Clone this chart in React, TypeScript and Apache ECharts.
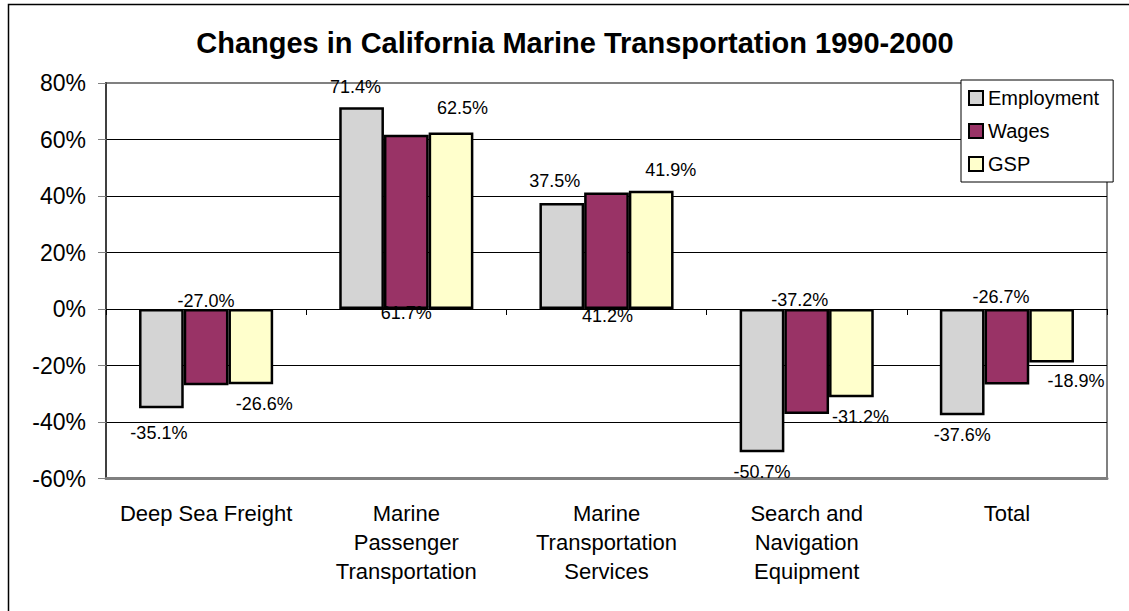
import React, { useEffect, useRef } from "react";
import * as echarts from "echarts";

const categories = [
  "Deep Sea Freight",
  "Marine\nPassenger\nTransportation",
  "Marine\nTransportation\nServices",
  "Search and\nNavigation\nEquipment",
  "Total",
];
const employment = [-35.1, 71.4, 37.5, -50.7, -37.6];
const wages = [-27.0, 61.7, 41.2, -37.2, -26.7];
const gsp = [-26.6, 62.5, 41.9, -31.2, -18.9];
const yTicks = { min: -60, max: 80, interval: 20 };

// label placement nudges (style only)
const empDist = [16, 11, 13, 11, 11];
const empDx = [-2.5, -6, -7, 0, 0];
const wagDist = [-0.5, -5, -2, 0, 3];
const wagDx = [0, 0, 1, -7, -6];
const gspDist = [11, 15, 11.5, 11, 10];
const gspDx = [13.5, 11.5, 19.5, 9, 24.5];

const FONT = 'Arial, "Liberation Sans", sans-serif';

function buildData(vals: number[], dist: number[], dx: number[], atBase: boolean) {
  return vals.map((v, i) => {
    const pos = atBase ? (v >= 0 ? "bottom" : "top") : v >= 0 ? "top" : "bottom";
    return {
      value: v,
      label: { position: pos, distance: dist[i], offset: [dx[i], 0] },
    };
  });
}

export default function App() {
  const ref = useRef<HTMLDivElement>(null);
  useEffect(() => {
    if (!ref.current) return;
    const chart = echarts.init(ref.current, undefined, { renderer: "svg" });
    const labelBase = {
      show: true,
      color: "#000",
      fontSize: 18,
      fontFamily: FONT,
      formatter: (p: any) => p.value.toFixed(1) + "%",
    };
    const barBorder = { borderColor: "#000", borderWidth: 2.5 };
    chart.setOption({
      animation: false,
      backgroundColor: "#fff",
      graphic: [
        {
          type: "polyline",
          shape: { points: [[8.5, 700], [8.5, 4.5], [1400, 4.5]] },
          style: { fill: "none", stroke: "#000", lineWidth: 1.5 },
          z: 100,
          silent: true,
        },
        {
          type: "text",
          x: 575,
          y: 43,
          style: {
            text: "Changes in California Marine Transportation 1990-2000",
            font: `bold 29px ${FONT}`,
            fill: "#000",
            textAlign: "center",
            textVerticalAlign: "middle",
          },
        },
      ],
      legend: {
        orient: "vertical",
        left: 961,
        top: 80,
        padding: [8, 14, 8, 7],
        itemGap: 13,
        itemWidth: 14,
        itemHeight: 14,
        icon: "rect",
        borderColor: "#000",
        borderWidth: 1,
        backgroundColor: "#fff",
        textStyle: { fontSize: 20, fontFamily: FONT, color: "#000" },
        data: ["Employment", "Wages", "GSP"],
      },
      grid: {
        left: 106,
        right: 22,
        top: 83,
        bottom: 132.5,
        show: true,
        borderColor: "#808080",
        borderWidth: 2,
        backgroundColor: "transparent",
      },
      xAxis: [
        {
          type: "category",
          data: categories,
          position: "bottom",
          axisLine: { onZero: false, lineStyle: { color: "#808080", width: 3 } },
          axisTick: { show: false },
          axisLabel: {
            color: "#000",
            fontSize: 22,
            lineHeight: 29,
            fontFamily: FONT,
            margin: 20,
            interval: 0,
          },
        },
        {
          type: "category",
          data: categories,
          position: "top",
          axisLine: { onZero: true, lineStyle: { color: "#000", width: 1 } },
          axisTick: { show: true, inside: true, length: 6, lineStyle: { color: "#000" } },
          axisLabel: { show: false },
        },
      ],
      yAxis: {
        type: "value",
        min: yTicks.min,
        max: yTicks.max,
        interval: yTicks.interval,
        axisLine: { show: true, lineStyle: { color: "#404040", width: 2 } },
        axisTick: { show: true, length: 8, lineStyle: { color: "#808080" } },
        axisLabel: {
          formatter: "{value}%",
          color: "#000",
          fontSize: 23,
          fontFamily: FONT,
          margin: 20,
        },
        splitLine: {
          show: true,
          lineStyle: {
            color: ["#808080", "#000", "#000", "#000", "#000", "#000", "#000", "#808080"],
            width: 1,
          },
        },
      },
      series: [
        {
          name: "Employment",
          type: "bar",
          xAxisIndex: 0,
          barGap: "0%",
          barCategoryGap: "33%",
          itemStyle: { color: "#d4d4d4", ...barBorder },
          label: labelBase,
          data: buildData(employment, empDist, empDx, false),
        },
        {
          name: "Wages",
          type: "bar",
          xAxisIndex: 0,
          barGap: "0%",
          barCategoryGap: "33%",
          itemStyle: { color: "#993366", ...barBorder },
          label: labelBase,
          data: buildData(wages, wagDist, wagDx, true),
        },
        {
          name: "GSP",
          type: "bar",
          xAxisIndex: 0,
          barGap: "0%",
          barCategoryGap: "33%",
          itemStyle: { color: "#ffffcc", ...barBorder },
          label: labelBase,
          data: buildData(gsp, gspDist, gspDx, false),
        },
      ],
    });
    return () => chart.dispose();
  }, []);
  return (
    <div
      ref={ref}
      style={{ position: "absolute", left: 0, top: 0, width: 1129, height: 611 }}
    />
  );
}
